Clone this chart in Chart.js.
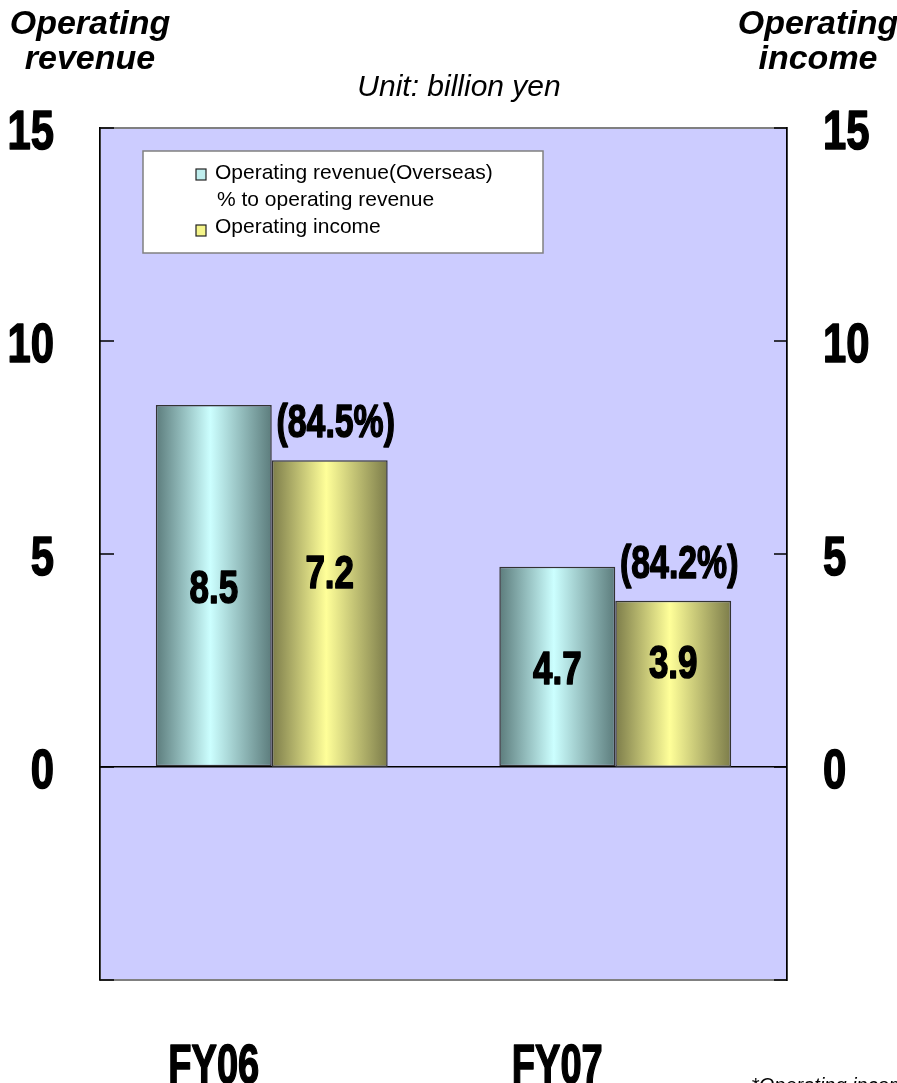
<!DOCTYPE html>
<html>
<head>
<meta charset="utf-8">
<title>Overseas operating revenue and operating income</title>
<script src="https://cdn.jsdelivr.net/npm/chart.js@4.4.1/dist/chart.umd.min.js"></script>
<style>
  html, body { margin: 0; padding: 0; background: #fff; }
  canvas { display: block; }
</style>
</head>
<body>
<canvas id="chart" width="897" height="1083"></canvas>
<script>
// --- Data (billion yen) ---
const categories = ['FY06', 'FY07'];
const overseasRevenue = [8.5, 4.7];
const operatingIncome = [7.2, 3.9];
const shareOfRevenue = [84.5, 84.2];
const yTicks = [-5, 0, 5, 10, 15];
const legendLines = ['Operating revenue(Overseas)', '% to operating revenue', 'Operating income'];
const leftTitle = ['Operating', 'revenue'];
const rightTitle = ['Operating', 'income'];
const unitNote = 'Unit: billion yen';
const footNote = '*Operating income';

const SANS = "'Liberation Sans', Arial, sans-serif";
const CAT_PCT = 0.675;

// no narrow face installed, so squeeze bold text horizontally (and thicken it a bit)
function narrowText(ctx, text, x, y, size, sx, align) {
  ctx.save();
  ctx.font = `bold ${size}px ${SANS}`;
  ctx.fillStyle = '#000';
  ctx.strokeStyle = '#000';
  ctx.lineWidth = 1.6;
  ctx.lineJoin = 'round';
  ctx.textAlign = align || 'center';
  ctx.textBaseline = 'alphabetic';
  ctx.translate(x, y);
  ctx.scale(sx, 1);
  ctx.fillText(text, 0, 0);
  ctx.strokeText(text, 0, 0);
  ctx.restore();
}

const tickLabel = v => (v < 0 ? '' : String(v));

// horizontal "cylinder" shading for each bar
const shade = (dark, light) => (ctx) => {
  const chart = ctx.chart;
  const area = chart.chartArea;
  if (!area || ctx.dataIndex === undefined) return light;
  const w = (area.width / categories.length) * CAT_PCT / 2;
  const centre = chart.scales.x.getPixelForValue(ctx.dataIndex);
  const left = ctx.datasetIndex === 0 ? centre - w : centre;
  const g = chart.ctx.createLinearGradient(left, 0, left + w, 0);
  g.addColorStop(0, dark);
  g.addColorStop(0.47, light);
  g.addColorStop(1, dark);
  return g;
};

const plotFrame = {
  id: 'plotFrame',
  beforeDraw(chart) {
    const { ctx, chartArea: a } = chart;
    ctx.save();
    ctx.fillStyle = '#ccccff';
    ctx.fillRect(a.left, a.top, a.width, a.height);
    ctx.strokeStyle = '#808080';
    ctx.lineWidth = 2;
    ctx.strokeRect(a.left, a.top, a.width, a.height);
    ctx.restore();
  },
  beforeDatasetsDraw(chart) {
    // tick marks point inwards from both axes
    const { ctx, chartArea: a } = chart;
    ctx.save();
    ctx.strokeStyle = '#000';
    ctx.lineWidth = 1.5;
    ctx.beginPath();
    chart.scales.y.ticks.forEach(t => {
      const py = chart.scales.y.getPixelForValue(t.value);
      ctx.moveTo(a.left, py); ctx.lineTo(a.left + 14, py);
    });
    chart.scales.y2.ticks.forEach(t => {
      const py = chart.scales.y2.getPixelForValue(t.value);
      ctx.moveTo(a.right - 13, py); ctx.lineTo(a.right, py);
    });
    ctx.stroke();
    ctx.restore();

    // axis labels
    const { x, y, y2 } = chart.scales;
    y.ticks.forEach(t => narrowText(ctx, tickLabel(t.value), 54, y.getPixelForValue(t.value) + 21, 55, 0.76, 'right'));
    y2.ticks.forEach(t => narrowText(ctx, tickLabel(t.value), 823, y2.getPixelForValue(t.value) + 21, 55, 0.76, 'left'));
    categories.forEach((c, i) => narrowText(ctx, c, x.getPixelForValue(i) - 58, 1083, 56, 0.68, 'center'));
  },
  afterDatasetsDraw(chart) {
    const ctx = chart.ctx;
    chart.data.datasets.forEach((ds, di) => {
      chart.getDatasetMeta(di).data.forEach((bar, i) => {
        const h = bar.base - bar.y;
        const y = bar.base - h * (di === 0 ? 0.5 : 0.64);
        narrowText(ctx, ds.data[i].toFixed(1), bar.x, y + 17, 46, 0.76, 'center');
      });
    });
    chart.getDatasetMeta(1).data.forEach((bar, i) => {
      narrowText(ctx, `(${shareOfRevenue[i].toFixed(1)}%)`, bar.x + 6, bar.y - 23, 47, 0.72, 'center');
    });
  },
  afterDraw(chart) {
    const ctx = chart.ctx;
    ctx.save();
    ctx.fillStyle = '#000';
    ctx.textBaseline = 'middle';
    ctx.textAlign = 'center';

    // axis titles
    ctx.font = `italic bold 34px ${SANS}`;
    leftTitle.forEach((s, i) => ctx.fillText(s, 90, 25 + i * 35));
    rightTitle.forEach((s, i) => ctx.fillText(s, 818, 25 + i * 35));

    ctx.font = `italic 30px ${SANS}`;
    ctx.fillText(unitNote, 459, 88);

    // legend
    ctx.fillStyle = '#fff';
    ctx.fillRect(143, 151, 400, 102);
    ctx.strokeStyle = '#808080';
    ctx.lineWidth = 1.5;
    ctx.strokeRect(143, 151, 400, 102);

    const swatches = [['#bfeeee', 174], [null, 0], ['#f5f58a', 230]];
    ctx.strokeStyle = '#222';
    ctx.lineWidth = 1.2;
    swatches.forEach(([c, y]) => {
      if (!c) return;
      ctx.fillStyle = c;
      ctx.fillRect(196, y - 5, 10, 11);
      ctx.strokeRect(196, y - 5, 10, 11);
    });
    ctx.fillStyle = '#000';
    ctx.textAlign = 'left';
    ctx.font = `21px ${SANS}`;
    legendLines.forEach((s, i) => ctx.fillText(s, i === 1 ? 217 : 215, 173 + i * 27));

    // footnote runs off the bottom edge
    ctx.textBaseline = 'top';
    ctx.font = `italic 20px ${SANS}`;
    ctx.fillText(footNote, 751, 1076);
    ctx.restore();
  }
};

new Chart(document.getElementById('chart'), {
  type: 'bar',
  data: {
    labels: categories,
    datasets: [
      {
        label: legendLines[0],
        data: overseasRevenue,
        yAxisID: 'y',
        backgroundColor: shade('#5c7c7c', '#ccffff'),
        borderColor: '#333',
        borderWidth: 1.5,
        borderSkipped: false,
        categoryPercentage: CAT_PCT,
        barPercentage: 1,
      },
      {
        label: legendLines[2],
        data: operatingIncome,
        yAxisID: 'y2',
        backgroundColor: shade('#7c7c4a', '#ffff99'),
        borderColor: '#333',
        borderWidth: 1.5,
        borderSkipped: false,
        categoryPercentage: CAT_PCT,
        barPercentage: 1,
      },
    ],
  },
  options: {
    responsive: false,
    animation: false,
    layout: { padding: { top: 128, left: 0, right: 0, bottom: 0 } },
    plugins: { legend: { display: false }, tooltip: { enabled: false } },
    scales: {
      x: {
        grid: { display: false },
        border: { display: false },
        ticks: { display: false },
        afterFit: s => { s.height = 103; },
      },
      y: {
        position: 'left',
        min: -5, max: 15,
        afterBuildTicks: s => { s.ticks = yTicks.map(v => ({ value: v })); },
        grid: {
          drawTicks: false,
          color: c => (c.tick && c.tick.value === 0 ? '#000' : 'rgba(0,0,0,0)'),
          lineWidth: 1.5,
        },
        border: { color: '#000', width: 1.5 },
        ticks: { display: false },
        afterFit: s => { s.width = 100; },
      },
      y2: {
        position: 'right',
        min: -5, max: 15,
        afterBuildTicks: s => { s.ticks = yTicks.map(v => ({ value: v })); },
        grid: { display: false, drawOnChartArea: false },
        border: { color: '#000', width: 1.5 },
        ticks: { display: false },
        afterFit: s => { s.width = 110; },
      },
    },
  },
  plugins: [plotFrame],
});
</script>
</body>
</html>
